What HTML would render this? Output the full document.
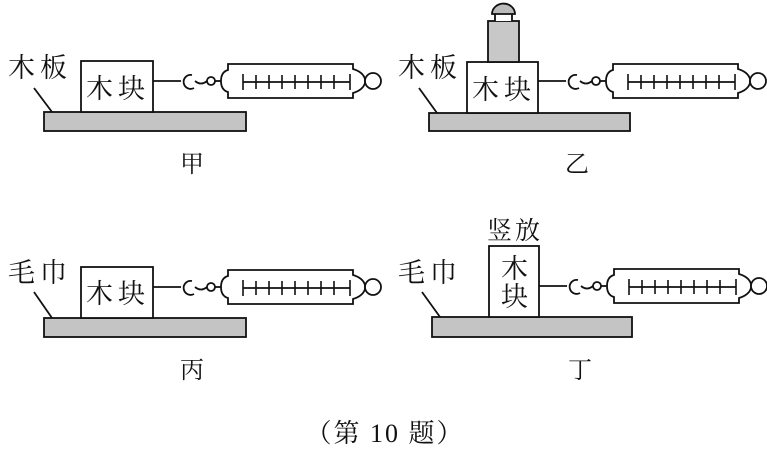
<!DOCTYPE html>
<html><head><meta charset="utf-8"><style>
html,body{margin:0;padding:0;background:#fff}
svg{display:block}
text{font-family:"Liberation Serif","Noto Serif CJK SC","Noto Sans CJK SC",serif;fill:#111}
</style></head><body>
<svg width="767" height="449" viewBox="0 0 767 449" xmlns="http://www.w3.org/2000/svg">
<defs>
<g id="sc" fill="none" stroke="#111" stroke-width="1.8">
<line x1="0" y1="0" x2="28" y2="0"/>
<path d="M39,-6 A7,7 0 1 0 41,7"/>
<path d="M42,0 Q48,5 54,0"/>
<circle cx="58" cy="0" r="4"/>
<line x1="62" y1="0" x2="68" y2="0"/>
<path d="M75,-17 L200,-17 L200,-12 Q210,-9 212,-2 L212,2 Q210,9 200,12 L200,17 L75,17 L75,11 Q68,9 68,0 Q68,-9 75,-11 Z" fill="#fff"/>
<circle cx="220" cy="0" r="8" fill="#fff"/>
<line x1="90" y1="1" x2="197" y2="1"/>
<g stroke-width="1.6">
<line x1="90" y1="-7" x2="90" y2="9"/><line x1="103" y1="-6" x2="103" y2="8"/><line x1="116" y1="-6" x2="116" y2="8"/><line x1="129" y1="-6" x2="129" y2="8"/><line x1="142" y1="-6" x2="142" y2="8"/><line x1="155" y1="-6" x2="155" y2="8"/><line x1="168" y1="-6" x2="168" y2="8"/><line x1="181" y1="-6" x2="181" y2="8"/><line x1="197" y1="-7" x2="197" y2="9"/>
</g>
</g>
</defs>
<g stroke="#111" stroke-width="1.8">
<rect x="44" y="112" width="202" height="19" fill="#c4c4c4"/>
<rect x="81" y="61" width="72" height="51" fill="#fff"/>
<line x1="34" y1="88" x2="52" y2="112"/>
<rect x="429" y="113" width="201" height="18" fill="#c4c4c4"/>
<rect x="467" y="62" width="71" height="51" fill="#fff"/>
<rect x="488" y="21" width="31" height="41" fill="#c8c8c8"/>
<path d="M495,21 L495,13 L512,13 L512,21" fill="#fff"/>
<path d="M492,14 A11,10 0 0 1 515,14 Z" fill="#bbb"/>
<line x1="419" y1="88" x2="437" y2="113"/>
<rect x="44" y="318" width="202" height="19" fill="#c4c4c4"/>
<rect x="81" y="267" width="72" height="51" fill="#fff"/>
<line x1="34" y1="292" x2="52" y2="318"/>
<rect x="432" y="317" width="200" height="20" fill="#c4c4c4"/>
<rect x="489" y="246" width="50" height="71" fill="#fff"/>
<line x1="422" y1="292" x2="440" y2="317"/>
</g>
<use href="#sc" x="153" y="81"/>
<use href="#sc" x="538" y="81"/>
<use href="#sc" x="153" y="287"/>
<use href="#sc" x="539" y="286"/>
<g font-size="27" letter-spacing="5">
<text x="8" y="77">木板</text>
<text x="86" y="98">木块</text>
<text x="398" y="77">木板</text>
<text x="472" y="99">木块</text>
<text x="8" y="282">毛巾</text>
<text x="86" y="303">木块</text>
<text x="398" y="282">毛巾</text>
<text x="501" y="278">木</text>
<text x="501" y="306">块</text>
<text x="487" y="239" font-size="25" letter-spacing="3">竖放</text>
</g>
<g font-size="24" text-anchor="middle">
<text x="192" y="172">甲</text>
<text x="577" y="172">乙</text>
<text x="192" y="378">丙</text>
<text x="580" y="378">丁</text>
<text x="385" y="442" font-size="26" letter-spacing="2">（第 10 题）</text>
</g>
</svg>
</body></html>
